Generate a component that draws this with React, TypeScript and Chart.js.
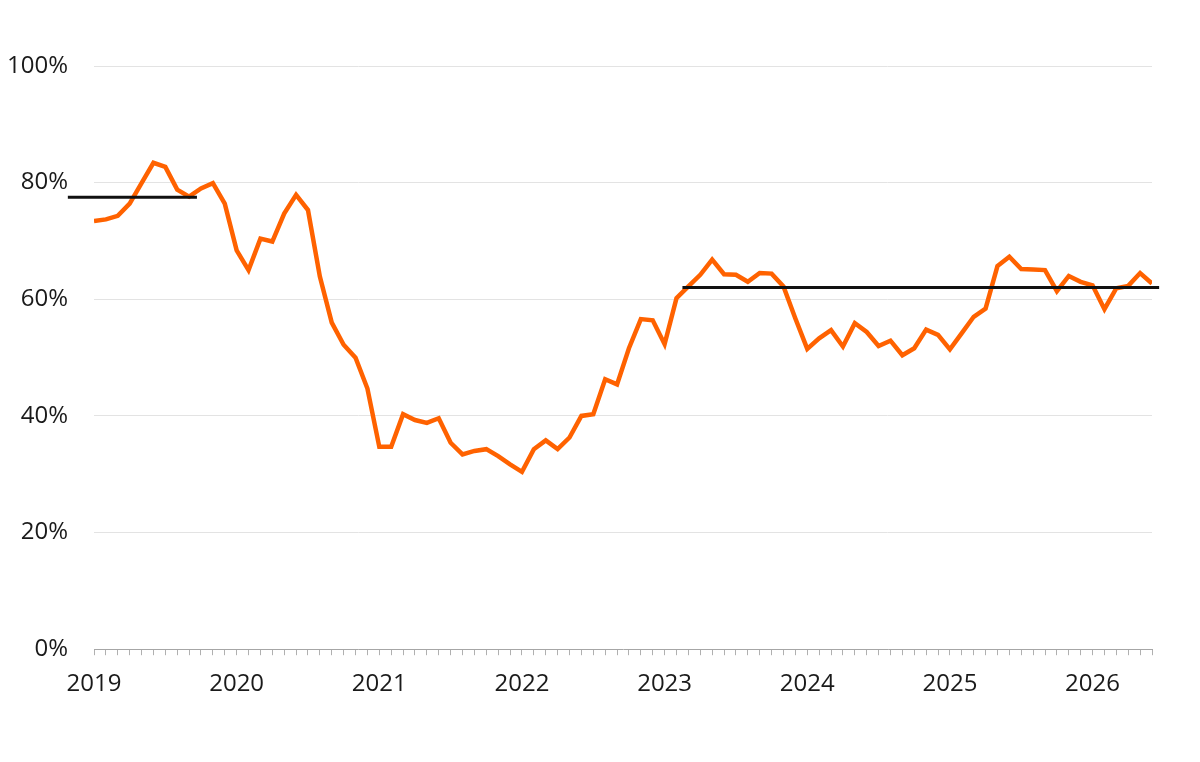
import { useEffect, useRef } from 'react';
import Chart from 'chart.js/auto';

// monthly readings, Jan 2019 .. Jun 2026 (percent)
const shareValues: number[] = [
  73.4, 73.7, 74.3, 76.4, 79.9, 83.4, 82.7, 78.8, 77.6, 79.0, 79.9, 76.4,
  68.4, 65.0, 70.4, 69.9, 74.7, 77.9, 75.3, 63.9, 56.0, 52.2, 50.0, 44.7,
  34.7, 34.7, 40.3, 39.3, 38.8, 39.6, 35.4, 33.4, 34.0, 34.3, 33.1, 31.7,
  30.4, 34.3, 35.8, 34.3, 36.3, 40.0, 40.3, 46.3, 45.4, 51.6, 56.6, 56.4,
  52.3, 60.2, 62.2, 64.2, 66.8, 64.3, 64.2, 63.0, 64.5, 64.4, 62.2, 56.7,
  51.5, 53.3, 54.7, 51.9, 55.9, 54.4, 52.0, 52.9, 50.4, 51.6, 54.8, 53.9,
  51.4, 54.2, 57.0, 58.4, 65.7, 67.3, 65.2, 65.1, 65.0, 61.4, 64.0, 63.0,
  62.4, 58.3, 61.9, 62.3, 64.5, 62.7,
];

const startYear = 2019;

// period averages: [from month, to month, level]
const avgEarly = { from: -2.2, to: 8.66, level: 77.5 };
const avgLate = { from: 49.5, to: 89.6, level: 62.0 };

const yTicks = [0, 20, 40, 60, 80, 100];

const ORANGE = '#FF6200';
const FONT = '"Open Sans", sans-serif';

const App = () => {
  const chartRef = useRef<HTMLCanvasElement>(null);
  const chartInstance = useRef<Chart | null>(null);

  useEffect(() => {
    document.body.style.margin = '0';
    if (!chartRef.current) return;
    if (chartInstance.current) chartInstance.current.destroy();

    const ctx = chartRef.current.getContext('2d');
    if (!ctx) return;

    const linePoints = shareValues.map((v, i) => ({ x: i, y: v }));
    const avgLine = (a: { from: number; to: number; level: number }) => [
      { x: a.from, y: a.level },
      { x: a.to, y: a.level },
    ];

    chartInstance.current = new Chart(ctx, {
      type: 'line',
      data: {
        datasets: [
          {
            data: avgLine(avgEarly),
            borderColor: '#111111',
            borderWidth: 3,
            pointRadius: 0,
            clip: false as any,
          },
          {
            data: avgLine(avgLate),
            borderColor: '#111111',
            borderWidth: 3,
            pointRadius: 0,
            clip: false as any,
          },
          {
            data: linePoints,
            borderColor: ORANGE,
            borderWidth: 4.5,
            pointRadius: 0,
            tension: 0,
          },
        ],
      },
      options: {
        animation: false,
        responsive: false,
        maintainAspectRatio: false,
        layout: { padding: { top: 66, right: 48, bottom: 48, left: 0 } },
        plugins: {
          legend: { display: false },
          tooltip: { enabled: false },
        },
        scales: {
          x: {
            type: 'linear',
            min: 0,
            max: shareValues.length - 1,
            grid: {
              drawOnChartArea: false,
              drawTicks: true,
              tickLength: 6,
              color: '#b0b0b0',
            },
            border: { display: true, color: '#a6a6a6', width: 1 },
            ticks: {
              stepSize: 1,
              autoSkip: false,
              maxRotation: 0,
              padding: 15,
              color: '#1a1a1a',
              font: { family: FONT, size: 24 },
              callback: (value) => {
                const v = Number(value);
                return v % 12 === 0 ? String(startYear + v / 12) : '';
              },
            },
          },
          y: {
            min: yTicks[0],
            max: yTicks[yTicks.length - 1],
            afterFit: (scale) => {
              scale.width = 94;
            },
            afterBuildTicks: (scale) => {
              scale.ticks = yTicks.map((v) => ({ value: v }));
            },
            grid: {
              drawTicks: false,
              color: (c) => (c.tick && c.tick.value === 0 ? 'rgba(0,0,0,0)' : '#e3e3e3'),
              lineWidth: 1,
            },
            border: { display: false },
            ticks: {
              padding: 26,
              color: '#1a1a1a',
              font: { family: FONT, size: 24 },
              callback: (value) => `${value}%`,
            },
          },
        },
      },
    });

    return () => {
      if (chartInstance.current) {
        chartInstance.current.destroy();
        chartInstance.current = null;
      }
    };
  }, []);

  return (
    <div style={{ width: 1200, height: 762, background: '#ffffff' }}>
      <canvas ref={chartRef} width={1200} height={762} style={{ width: 1200, height: 762 }} />
    </div>
  );
};

export default App;
